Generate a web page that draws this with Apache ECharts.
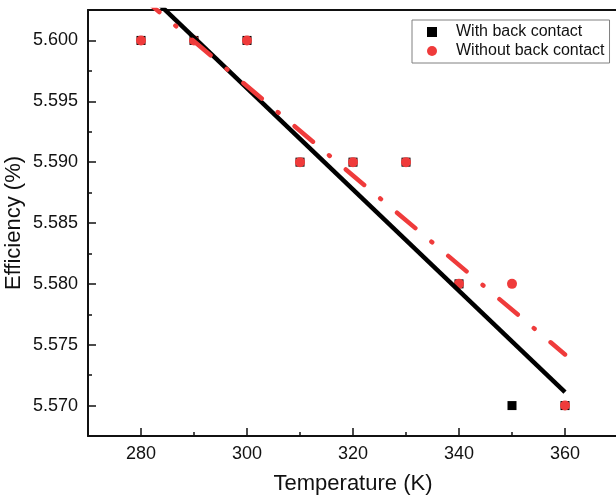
<!DOCTYPE html>
<html><head><meta charset="utf-8">
<script src="https://cdn.jsdelivr.net/npm/echarts@6/dist/echarts.min.js"></script>
<style>html,body{margin:0;padding:0;background:#fff}#c{width:616px;height:498px}</style>
</head><body><div id="c"></div>
<script>
var temps = [280, 290, 300, 310, 320, 330, 340, 350, 360];
var withContact = [5.600, 5.600, 5.600, 5.590, 5.590, 5.590, 5.580, 5.570, 5.570];
var withoutContact = [5.600, 5.600, 5.600, 5.590, 5.590, 5.590, 5.580, 5.580, 5.570];
// linear fit endpoints
var fitWithX = [280, 360];
var fitWithY = [5.6044, 5.5711];
var fitWithoutX = [280, 360];
var fitWithoutY = [5.6036, 5.5742];
var xMajor = [280, 300, 320, 340, 360];
var xMinor = [290, 310, 330, 350];
var yMajor = [5.570, 5.575, 5.580, 5.585, 5.590, 5.595, 5.600];
var yMinor = [5.5725, 5.5775, 5.5825, 5.5875, 5.5925, 5.5975];

function pairs(xs, ys){ return xs.map(function(x,i){return [x, ys[i]];}); }
var RED = '#EF3B3B';
var FONT = 'Liberation Sans';
var chart = echarts.init(document.getElementById('c'));
var xBase = {type:'value', min:270, max:370, splitLine:{show:false}};
var yBase = {type:'value', min:5.5675, max:5.6025, splitLine:{show:false}};
chart.setOption({
  animation:false,
  textStyle:{fontFamily:FONT},
  grid:{left:88, top:10, right:-2, bottom:62, containLabel:false, outerBoundsMode:'none'},
  legend:{
    orient:'vertical', left:412, top:20,
    borderColor:'#808080', borderWidth:1, borderRadius:0,
    padding:[4,5,4,15], itemGap:3, itemWidth:10, itemHeight:10,
    textStyle:{fontFamily:FONT, fontSize:16, lineHeight:16, color:'#111', padding:[0,0,0,14]},
    data:[{name:'With back contact', icon:'rect'},{name:'Without back contact', icon:'circle'}]
  },
  xAxis:[
    Object.assign({}, xBase, {position:'bottom',
      name:'Temperature (K)', nameLocation:'middle', nameGap:37, nameMoveOverlap:false,
      nameTextStyle:{fontFamily:FONT, fontSize:22, color:'#111'},
      axisLine:{lineStyle:{color:'#111', width:2}},
      axisTick:{inside:true, length:8, lineStyle:{color:'#111', width:1.5}, customValues:xMajor},
      axisLabel:{fontFamily:FONT, fontSize:18, color:'#111', margin:9, customValues:xMajor}
    }),
    Object.assign({}, xBase, {position:'bottom',
      axisLine:{show:false},
      axisTick:{inside:true, length:4, lineStyle:{color:'#111', width:1.5}, customValues:xMinor},
      axisLabel:{show:false}
    }),
    Object.assign({}, xBase, {position:'top',
      axisLine:{lineStyle:{color:'#111', width:2}},
      axisTick:{show:false}, axisLabel:{show:false}
    })
  ],
  yAxis:[
    Object.assign({}, yBase, {position:'left',
      name:'Efficiency (%)', nameLocation:'middle', nameGap:63, nameRotate:90, nameMoveOverlap:false,
      nameTextStyle:{fontFamily:FONT, fontSize:22, color:'#111'},
      axisLine:{lineStyle:{color:'#111', width:2}},
      axisTick:{inside:true, length:8, lineStyle:{color:'#111', width:1.5}, customValues:yMajor},
      axisLabel:{fontFamily:FONT, fontSize:18, color:'#111', margin:10, customValues:yMajor,
        formatter:function(v){return v.toFixed(3);}}
    }),
    Object.assign({}, yBase, {position:'left',
      axisLine:{show:false},
      axisTick:{inside:true, length:4, lineStyle:{color:'#111', width:1.5}, customValues:yMinor},
      axisLabel:{show:false}
    })
  ],
  series:[
    {name:'With back contact', type:'scatter', symbol:'rect', symbolSize:9,
     itemStyle:{color:'#000', opacity:1}, data:pairs(temps, withContact), z:3},
    {name:'Without back contact', type:'scatter', symbol:'circle', symbolSize:10,
     itemStyle:{color:RED, opacity:1}, data:pairs(temps, withoutContact), z:4},
    {name:'fitWith', type:'line', showSymbol:false, symbol:'none', clip:true,
     lineStyle:{color:'#000', width:4.5}, data:pairs(fitWithX, fitWithY), z:5},
    {name:'fitWithout', type:'line', showSymbol:false, symbol:'none', clip:true,
     lineStyle:{color:RED, width:4.5, type:[24,21,1,21], cap:'round'}, data:pairs(fitWithoutX, fitWithoutY), z:6}
  ]
});
</script></body></html>
